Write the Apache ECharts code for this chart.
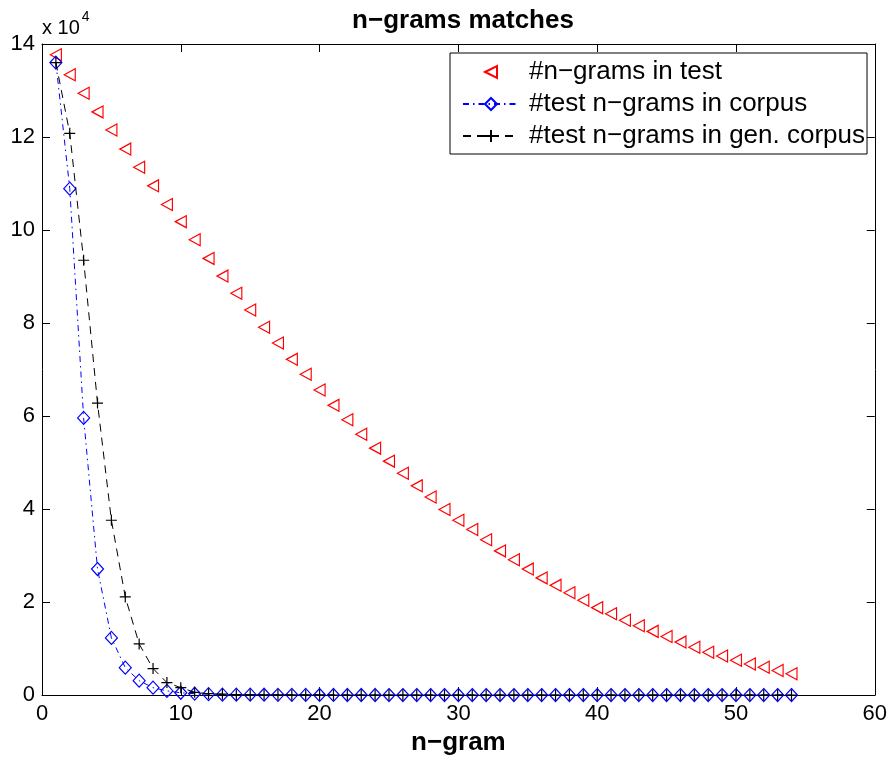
<!DOCTYPE html>
<html>
<head>
<meta charset="utf-8">
<script src="https://cdn.jsdelivr.net/npm/echarts@6/dist/echarts.min.js"></script>
<style>
html,body{margin:0;padding:0;background:#fff;overflow:hidden;}
#chart{width:890px;height:761px;}
</style>
</head>
<body>
<div id="chart"></div>
<script>
// n-gram order (x)
var ngram = [1,2,3,4,5,6,7,8,9,10,11,12,13,14,15,16,17,18,19,20,21,22,23,24,25,26,27,
  28,29,30,31,32,33,34,35,36,37,38,39,40,41,42,43,44,45,46,47,48,49,50,51,52,53,54];

// #n-grams in test
var inTest = [137700,133400,129400,125400,121500,117400,113500,109500,105500,101800,
  97900,93900,90100,86400,82800,79100,75700,72200,69000,65600,62300,59200,56100,53100,
  50300,47700,45000,42600,39900,37600,35600,33400,31000,29100,27100,25200,23600,22000,
  20400,18800,17500,16100,14900,13700,12600,11400,10300,9200,8400,7500,6700,6000,5300,4600];

// #test n-grams in corpus
var inCorpus = [136000,108900,59600,27100,12300,5900,3100,1600,900,500,300,200,100,100,
  100,80,60,50,40,30,30,20,20,20,10,10,10,10,10,10,10,10,10,10,10,10,10,10,10,10,
  10,10,10,10,10,10,10,10,10,10,10,10,10,10];

// #test n-grams in gen. corpus
var inGenCorpus = [136000,120800,93500,62800,37600,21100,11000,5700,2700,1600,600,300,200,
  100,80,60,50,40,30,30,20,20,20,10,10,10,10,10,10,10,10,10,10,10,10,10,10,10,10,10,
  10,10,10,10,10,10,10,10,10,10,10,10,10,10];

// axis ticks
var xTicks = {min: 0, max: 60, interval: 10};
var yTicks = {min: 0, max: 140000, interval: 20000};

var seriesNames = ['#n\u2212grams in test', '#test n\u2212grams in corpus', '#test n\u2212grams in gen. corpus'];

function pairs(vals){ return ngram.map(function(n,i){ return [n, vals[i]]; }); }

var FONT = '"Liberation Sans", Arial, Helvetica, sans-serif';
var chart = echarts.init(document.getElementById('chart'), null, {renderer:'canvas'});

var axisCommon = {
  axisLine: {show: true, onZero: false, lineStyle: {color: '#000', width: 1}},
  axisTick: {show: true, inside: true, length: 8, lineStyle: {color: '#000', width: 1}},
  splitLine: {show: false}
};

var option = {
  backgroundColor: '#fff',
  animation: false,
  textStyle: {fontFamily: FONT},
  title: {
    text: 'n\u2212grams matches',
    left: 458, textAlign: 'center', top: 3,
    textStyle: {fontFamily: FONT, fontSize: 26, fontWeight: 'bold', color: '#000'}
  },
  grid: {left: 42, right: 15, top: 44, bottom: 59, containLabel: false},
  legend: {
    orient: 'vertical',
    left: 450, top: 53,
    padding: [4, 2, 3, 12],
    itemGap: 2,
    itemWidth: 56, itemHeight: 15,
    backgroundColor: '#fff',
    borderColor: '#000', borderWidth: 1,
    textStyle: {fontFamily: FONT, fontSize: 26, color: '#000', lineHeight: 30, padding: [0,0,0,5]},
    data: seriesNames
  },
  graphic: [{
    type: 'text', left: 42, top: 10,
    style: {
      text: '{a|x 10}{b|4}',
      rich: {
        a: {fontFamily: FONT, fontSize: 20, color: '#000', verticalAlign: 'bottom', lineHeight: 28},
        b: {fontFamily: FONT, fontSize: 14, color: '#000', verticalAlign: 'top', padding: [0,0,12,2], lineHeight: 28}
      }
    }
  }],
  xAxis: [
    Object.assign({
      type: 'value', position: 'bottom', min: xTicks.min, max: xTicks.max, interval: xTicks.interval,
      name: 'n\u2212gram', nameLocation: 'middle', nameGap: 30,
      nameTextStyle: {fontFamily: FONT, fontSize: 26, fontWeight: 'bold', color: '#000'},
      axisLabel: {fontFamily: FONT, fontSize: 22, color: '#000', margin: 8}
    }, axisCommon),
    Object.assign({
      type: 'value', position: 'top', min: xTicks.min, max: xTicks.max, interval: xTicks.interval,
      axisLabel: {show: false}
    }, axisCommon)
  ],
  yAxis: [
    Object.assign({
      type: 'value', position: 'left', min: yTicks.min, max: yTicks.max, interval: yTicks.interval,
      axisLabel: {fontFamily: FONT, fontSize: 22, color: '#000', margin: 7,
        formatter: function(v){ return String(v/10000); }}
    }, axisCommon),
    Object.assign({
      type: 'value', position: 'right', min: yTicks.min, max: yTicks.max, interval: yTicks.interval,
      axisLabel: {show: false}
    }, axisCommon)
  ],
  series: [
    {
      name: seriesNames[0], type: 'line', data: pairs(inTest),
      symbol: 'path://M0,6 L11,0 L11,12 Z', symbolSize: [11, 12], showAllSymbol: true,
      lineStyle: {width: 0, opacity: 0},
      itemStyle: {color: 'rgba(255,255,255,0)', borderColor: '#ff0000', borderWidth: 1.2},
      emphasis: {disabled: true}, z: 2
    },
    {
      name: seriesNames[1], type: 'line', data: pairs(inCorpus),
      symbol: 'diamond', symbolSize: [12, 13], showAllSymbol: true,
      lineStyle: {color: '#0000ff', width: 1, type: [6, 4, 1.5, 4]},
      itemStyle: {color: 'rgba(255,255,255,0)', borderColor: '#0000ff', borderWidth: 1.2},
      emphasis: {disabled: true}, z: 3
    },
    {
      name: seriesNames[2], type: 'line', data: pairs(inGenCorpus),
      symbol: 'path://M5,0 L5,10 M0,5 L10,5', symbolSize: 11, showAllSymbol: true,
      lineStyle: {color: '#000', width: 1, type: [8, 6]},
      itemStyle: {color: 'rgba(0,0,0,0)', borderColor: '#000', borderWidth: 1.2},
      emphasis: {disabled: true}, z: 4
    }
  ]
};
chart.setOption(option);
</script>
</body>
</html>
